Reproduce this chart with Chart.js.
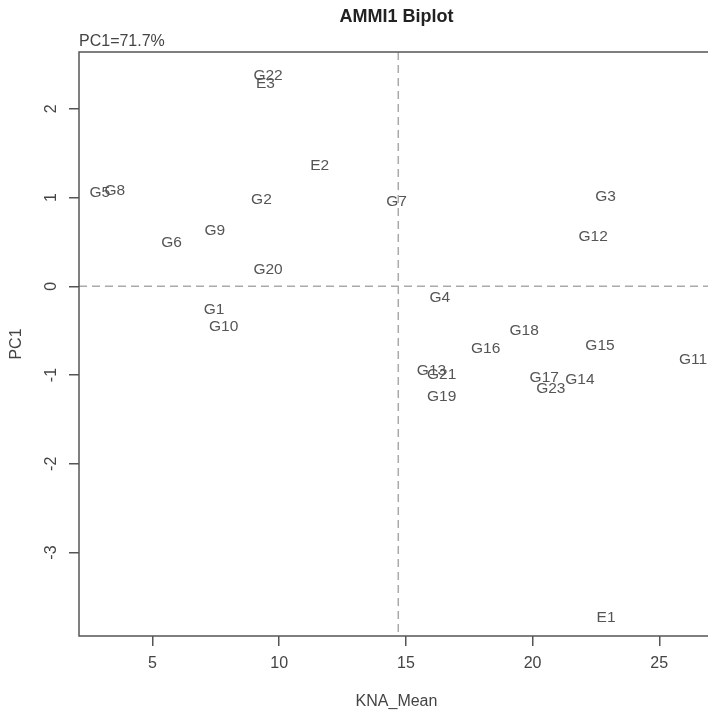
<!DOCTYPE html>
<html>
<head>
<meta charset="utf-8">
<script src="https://cdn.jsdelivr.net/npm/chart.js@4.4.1/dist/chart.umd.min.js"></script>
<style>
  html, body { margin: 0; padding: 0; background: #fff; overflow: hidden; }
  #wrap { width: 708px; height: 713px; overflow: hidden; }
</style>
</head>
<body>
<div id="wrap">
  <canvas id="biplot" width="730" height="713"></canvas>
</div>
<script>
// genotypes: mean (x) and PC1 score (y)
const genotypes = ['G1','G2','G3','G4','G5','G6','G7','G8','G9','G10','G11','G12',
  'G13','G14','G15','G16','G17','G18','G19','G20','G21','G22','G23'];
const genoMean = [7.43, 9.30, 22.88, 16.34, 2.92, 5.75, 14.63, 3.51, 7.46, 7.81, 26.33, 22.39,
  16.01, 21.87, 22.66, 18.15, 20.46, 19.67, 16.41, 9.56, 16.41, 9.56, 20.72];
const genoPC1 = [-0.26, 0.98, 1.01, -0.13, 1.05, 0.49, 0.95, 1.08, 0.63, -0.45, -0.83, 0.56,
  -0.95, -1.05, -0.67, -0.70, -1.03, -0.50, -1.24, 0.19, -1.00, 2.37, -1.15];

// environments
const environments = ['E1', 'E2', 'E3'];
const envMean = [22.90, 11.60, 9.46];
const envPC1 = [-3.73, 1.36, 2.28];

// grand mean and zero line
const grandMean = 14.70;
const pcZero = 0;

const xTicks = [5, 10, 15, 20, 25];
const yTicks = [-3, -2, -1, 0, 1, 2];

const txt = '#555';
const fam = '"Liberation Sans", Arial, sans-serif';

const toPoints = (xs, ys) => xs.map((x, i) => ({ x: x, y: ys[i] }));

// draws box, reference lines, labels and titles
const biplotDecor = {
  id: 'biplotDecor',
  beforeDatasetsDraw(chart) {
    const { ctx, chartArea: a, scales } = chart;
    ctx.save();
    ctx.strokeStyle = '#aaa';
    ctx.lineWidth = 1.5;
    ctx.setLineDash([8, 5]);
    const vx = scales.x.getPixelForValue(grandMean);
    const hy = scales.y.getPixelForValue(pcZero);
    ctx.beginPath();
    ctx.moveTo(vx, a.top);
    ctx.lineTo(vx, a.bottom);
    ctx.moveTo(a.left, hy);
    ctx.lineTo(a.right, hy);
    ctx.stroke();
    ctx.restore();
  },
  afterDatasetsDraw(chart) {
    const { ctx, chartArea: a } = chart;
    ctx.save();
    ctx.font = '15.5px ' + fam;
    ctx.fillStyle = txt;
    ctx.textAlign = 'center';
    ctx.textBaseline = 'middle';
    chart.data.datasets.forEach((ds, di) => {
      chart.getDatasetMeta(di).data.forEach((el, i) => {
        ctx.fillText(ds.names[i], el.x, el.y);
      });
    });

    // box
    ctx.strokeStyle = '#555';
    ctx.lineWidth = 1.5;
    ctx.strokeRect(a.left, a.top, a.right - a.left, a.bottom - a.top);

    // titles
    const cx = (a.left + a.right) / 2;
    ctx.fillStyle = '#222';
    ctx.font = 'bold 18px ' + fam;
    ctx.fillText('AMMI1 Biplot', cx, 17);

    ctx.fillStyle = '#444';
    ctx.font = '16px ' + fam;
    ctx.textAlign = 'left';
    ctx.fillText('PC1=71.7%', a.left, 42);

    ctx.textAlign = 'center';
    ctx.fillText('KNA_Mean', cx, 702);

    ctx.translate(17, (a.top + a.bottom) / 2);
    ctx.rotate(-Math.PI / 2);
    ctx.fillText('PC1', 0, 0);
    ctx.restore();
  }
};

new Chart(document.getElementById('biplot'), {
  type: 'scatter',
  data: {
    datasets: [
      { label: 'Genotypes', names: genotypes, data: toPoints(genoMean, genoPC1), pointRadius: 0 },
      { label: 'Environments', names: environments, data: toPoints(envMean, envPC1), pointRadius: 0 }
    ]
  },
  options: {
    responsive: false,
    animation: false,
    layout: { padding: { top: 52, right: 16, left: 0, bottom: 0 } },
    plugins: {
      legend: { display: false },
      tooltip: { enabled: false }
    },
    scales: {
      x: {
        min: 2.10,
        max: 27.16,
        afterFit: s => { s.height = 77; },
        afterBuildTicks: s => { s.ticks = xTicks.map(v => ({ value: v })); },
        grid: { drawOnChartArea: false, tickLength: 10, color: '#555', lineWidth: 1.5 },
        border: { display: false },
        ticks: {
          color: '#444',
          padding: 8,
          font: { family: fam, size: 16 }
        }
      },
      y: {
        min: -3.94,
        max: 2.64,
        afterFit: s => { s.width = 79; },
        afterBuildTicks: s => { s.ticks = yTicks.map(v => ({ value: v })); },
        grid: { drawOnChartArea: false, tickLength: 10, color: '#555', lineWidth: 1.5 },
        border: { display: false },
        ticks: {
          color: '#444',
          padding: 10,
          minRotation: 90,
          maxRotation: 90,
          crossAlign: 'center',
          font: { family: fam, size: 16 }
        }
      }
    }
  },
  plugins: [biplotDecor]
});
</script>
</body>
</html>
